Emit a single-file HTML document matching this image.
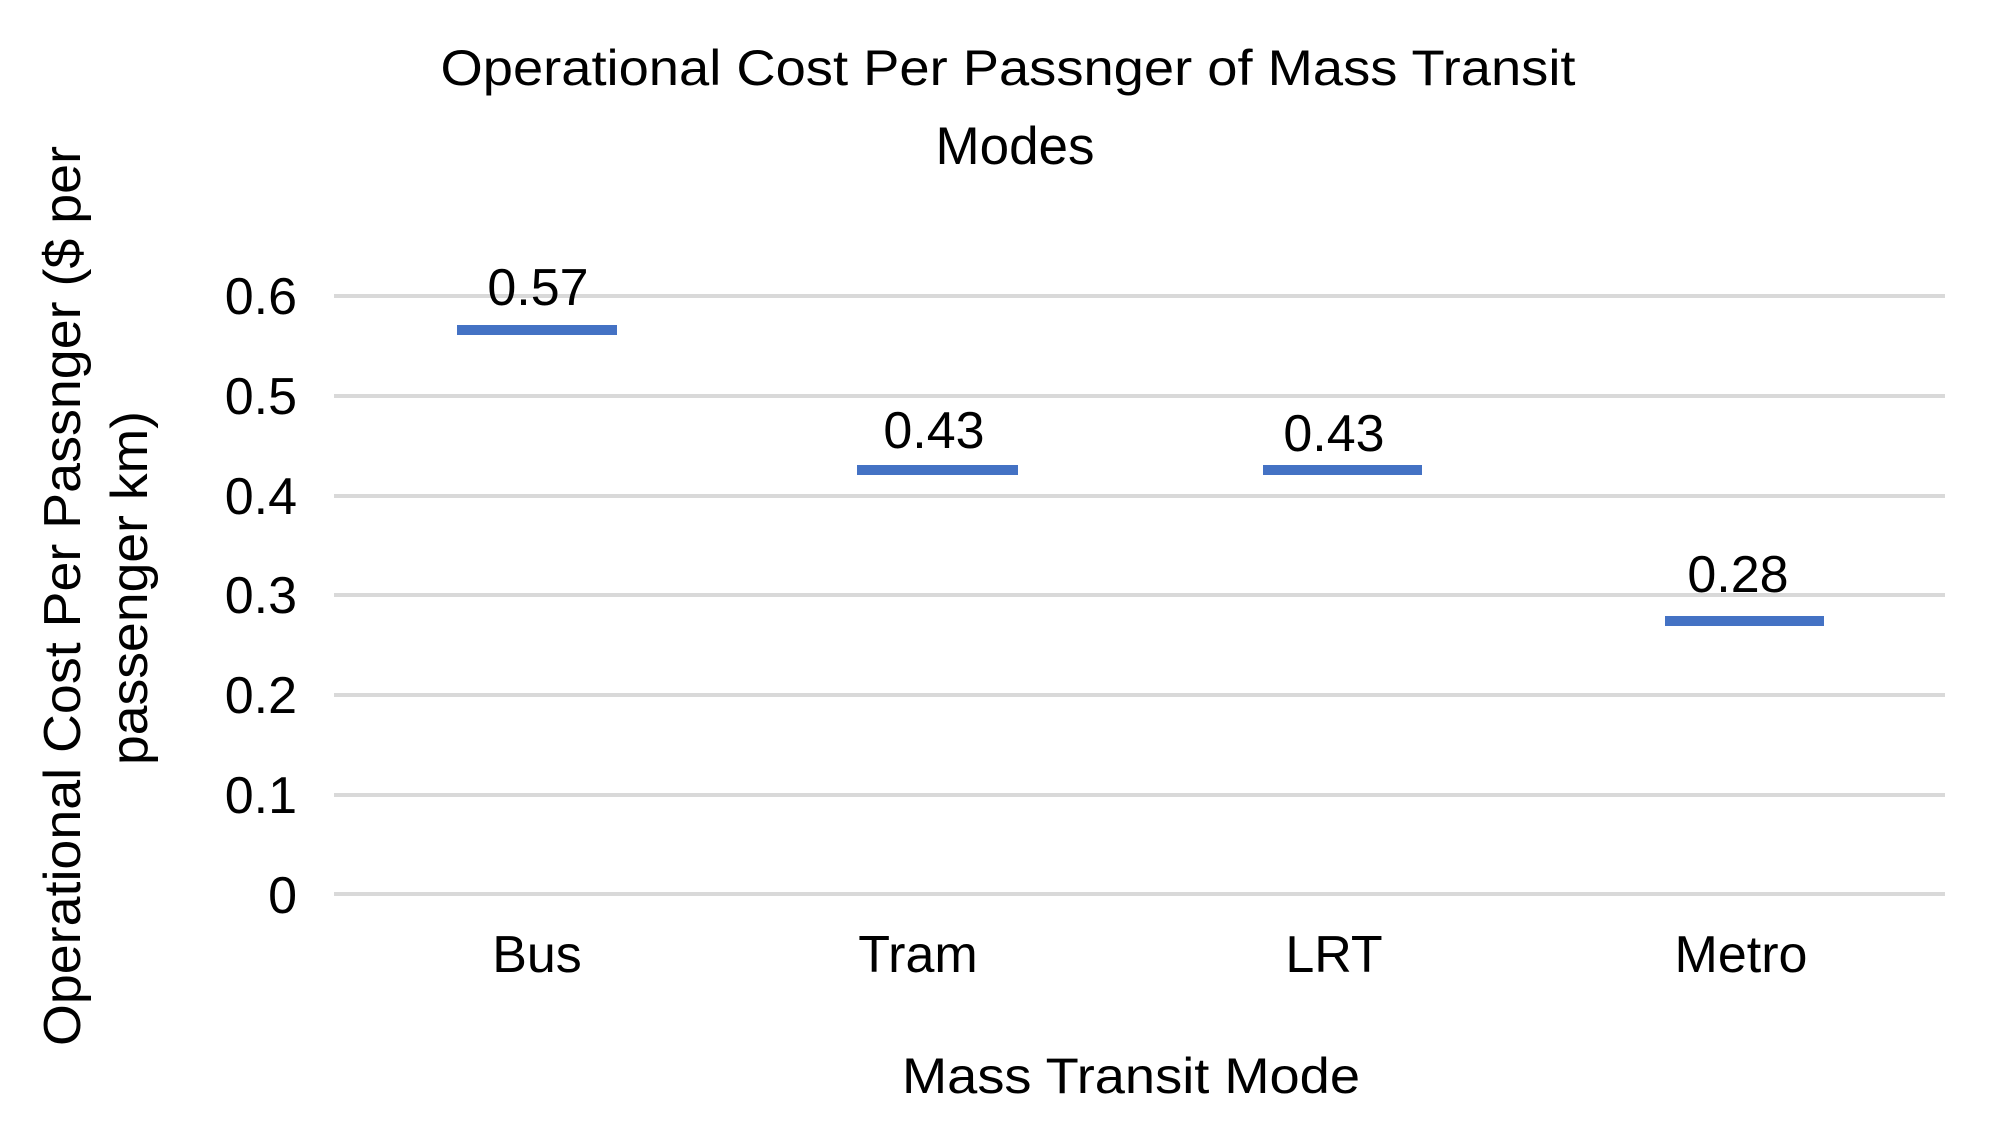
<!DOCTYPE html>
<html><head><meta charset="utf-8"><style>html,body{margin:0;padding:0;background:#fff}svg{display:block}</style></head>
<body>
<svg width="2000" height="1133" viewBox="0 0 2000 1133" xmlns="http://www.w3.org/2000/svg" font-family="Liberation Sans, Arial, sans-serif" fill="#000">
<g stroke="#d9d9d9" stroke-width="4">
<line x1="334" y1="296" x2="1945" y2="296"/>
<line x1="334" y1="396" x2="1945" y2="396"/>
<line x1="334" y1="496" x2="1945" y2="496"/>
<line x1="334" y1="595" x2="1945" y2="595"/>
<line x1="334" y1="695" x2="1945" y2="695"/>
<line x1="334" y1="795" x2="1945" y2="795"/>
<line x1="334" y1="894" x2="1945" y2="894"/>
</g>
<g font-size="52" text-anchor="end">
<text x="297" y="314">0.6</text>
<text x="297" y="414">0.5</text>
<text x="297" y="514">0.4</text>
<text x="297" y="613">0.3</text>
<text x="297" y="713">0.2</text>
<text x="297" y="813">0.1</text>
<text x="297" y="913">0</text>
</g>
<g stroke="#4472c4" stroke-width="10">
<line x1="457" y1="330" x2="617" y2="330"/>
<line x1="857" y1="470" x2="1018" y2="470"/>
<line x1="1263" y1="470" x2="1422" y2="470"/>
<line x1="1665" y1="621" x2="1824" y2="621"/>
</g>
<g font-size="52" text-anchor="middle">
<text x="538" y="305">0.57</text>
<text x="934" y="448">0.43</text>
<text x="1334" y="451">0.43</text>
<text x="1738" y="592">0.28</text>
<text x="537" y="972">Bus</text>
<text x="918" y="972">Tram</text>
<text x="1334" y="972">LRT</text>
<text x="1741" y="972">Metro</text>
</g>
<g font-size="50" text-anchor="middle">
<text x="1008" y="85" textLength="1135" lengthAdjust="spacingAndGlyphs">Operational Cost Per Passnger of Mass Transit</text>
<text x="1015" y="164" font-size="53">Modes</text>
<text x="1131" y="1093" textLength="458" lengthAdjust="spacingAndGlyphs">Mass Transit Mode</text>
</g>
<g font-size="52" text-anchor="middle">
<text transform="translate(80,596) rotate(-90)" textLength="900" lengthAdjust="spacingAndGlyphs">Operational Cost Per Passnger ($ per</text>
<text transform="translate(147,588) rotate(-90)" textLength="354" lengthAdjust="spacingAndGlyphs">passenger km)</text>
</g>
</svg>
</body></html>
